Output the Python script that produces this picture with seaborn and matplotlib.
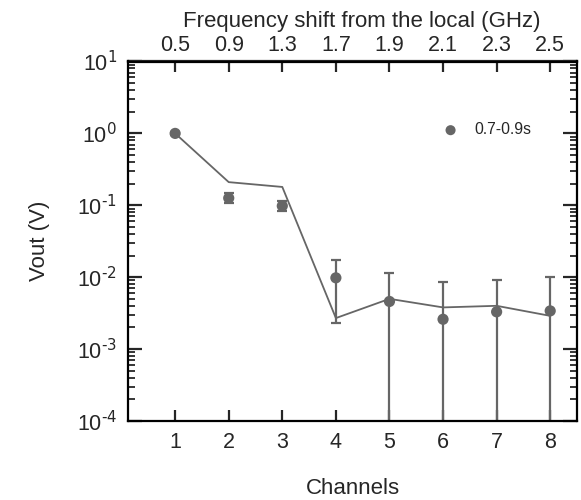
import numpy as np
import matplotlib
matplotlib.use('Agg')
import matplotlib.pyplot as plt
import matplotlib.ticker as mticker
import seaborn as sns
import pandas as pd

# data
channels = [1, 2, 3, 4, 5, 6, 7, 8]
freq_labels = ['0.5', '0.9', '1.3', '1.7', '1.9', '2.1', '2.3', '2.5']
vout = [1.0, 0.126, 0.098, 0.0098, 0.0046, 0.0026, 0.0033, 0.0034]
vout_err = [0.06, 0.02, 0.015, 0.0075, 0.0069, 0.0060, 0.0059, 0.0068]
model = [1.0, 0.21, 0.18, 0.0027, 0.0050, 0.0038, 0.0040, 0.0029]

df = pd.DataFrame({'channel': channels, 'vout': vout, 'err': vout_err, 'model': model})

sns.set_theme(style='ticks')
plt.rcParams['font.family'] = ['Liberation Sans', 'DejaVu Sans']
plt.rcParams['mathtext.default'] = 'regular'
plt.rcParams['axes.unicode_minus'] = False

grey = '#666666'


def pow10(v, pos):
    e = int(round(np.log10(v)))
    return r'$10^{\text{%d}}$' % e


fig = plt.figure(figsize=(5.81, 5.0), dpi=100)
ax = fig.add_axes([0.2203, 0.158, 0.7728, 0.719])

sns.lineplot(data=df, x='channel', y='model', ax=ax, color=grey, lw=1.3, legend=False)
ax.errorbar(df['channel'], df['vout'], yerr=df['err'], fmt='none', ecolor=grey,
            elinewidth=1.6, capsize=3.8, capthick=1.6)
sns.scatterplot(data=df, x='channel', y='vout', ax=ax, color=grey, s=65,
                edgecolor='none', label='0.7-0.9s', zorder=5)

ax.set_yscale('log')
ax.set_ylim(1e-4, 1e1)
ax.yaxis.set_major_formatter(mticker.FuncFormatter(pow10))
ax.set_xlim(0.12, 8.5)
ax.set_xticks(channels)
ax.set_xlabel('Channels', fontsize=16, labelpad=18)
ax.set_ylabel('Vout (V)', fontsize=16, labelpad=19)

for s in ax.spines.values():
    s.set_linewidth(1.6)
    s.set_color('black')
ax.tick_params(axis='both', which='both', direction='in', labelsize=15.5)
ax.tick_params(axis='x', which='major', length=8, width=1.6, top=False, pad=8)
ax.tick_params(axis='y', which='major', length=10, width=1.6, right=True, pad=8)
ax.tick_params(axis='y', which='minor', length=5, width=1.3, right=True)
ax.tick_params(axis='x', which='minor', bottom=False, top=False)

top = ax.secondary_xaxis('top')
top.set_xticks(channels)
top.set_xticklabels(freq_labels)
top.tick_params(direction='in', length=8, width=1.6, labelsize=15.5, pad=4)
top.spines['top'].set_linewidth(1.6)
top.set_xlabel('Frequency shift from the local (GHz)', fontsize=16, labelpad=6, x=0.521)

ax.legend(loc='center left', bbox_to_anchor=(0.652, 0.81), frameon=False,
          fontsize=11.3, handletextpad=0.5, markerscale=0.9)

fig.savefig('out.png', dpi=100)
